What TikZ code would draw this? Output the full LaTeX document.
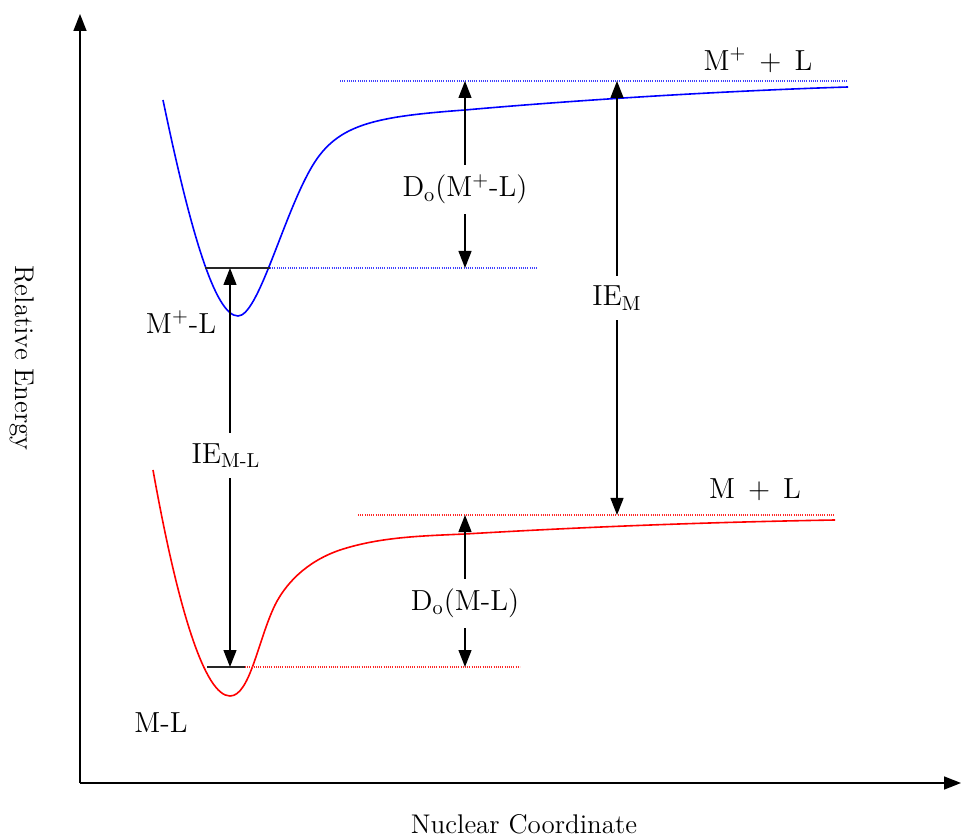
\documentclass[tikz,border=0pt]{standalone}
\usepackage{tikz}
\usetikzlibrary{arrows.meta}
\tikzset{
  axisarrow/.style={-{Triangle[length=8.5pt, width=6.5pt]}, line width=0.8pt},
  gaparrow/.style={{Triangle[length=8.5pt, width=6.5pt]}-{Triangle[length=8.5pt, width=6.5pt]}, line width=0.65pt},
  bluecurve/.style={blue, line width=0.8pt},
  redcurve/.style={red, line width=0.8pt},
  bluelevel/.style={blue!75, line width=0.55pt, dash pattern=on 0.5pt off 0.6pt},
  redlevel/.style={red!85, line width=0.55pt, dash pattern=on 0.5pt off 0.6pt},
  minlevel/.style={black!85, line width=0.75pt},
  gaplabel/.style={fill=white, inner sep=5pt, font=\fontsize{14.5}{17}\selectfont},
  statelabel/.style={font=\fontsize{14.5}{17}\selectfont},
  axislabel/.style={font=\fontsize{13.5}{16}\selectfont}
}

\begin{document}
\begin{tikzpicture}[x=0.5pt, y=-0.5pt]
  \useasboundingbox (0,0) rectangle (962,838);
  % axes
  \coordinate (origin) at (80,783);
  \coordinate (ytop) at (80,14);
  \coordinate (xend) at (961,783);
  \draw[axisarrow] (origin) -- (ytop);
  \draw[axisarrow] (origin) -- (xend);
  \node[axislabel, rotate=-90] (ylabel) at (22,358) {Relative Energy};
  \node[axislabel] (xlabel) at (524,824) {Nuclear Coordinate};

  % ion curve M+ -- L
  \draw[bluecurve] (163,100) .. controls (190,230) and (215,316) .. (238,316)
    .. controls (258,316) and (282,220) .. (310,170)
    .. controls (335,125) and (370,117) .. (465,110)
    .. controls (600,98) and (750,90) .. (848,87);
  % neutral curve M -- L
  \draw[redcurve] (153,470) .. controls (178,610) and (205,696) .. (230,696)
    .. controls (250,696) and (258,640) .. (275,605)
    .. controls (285,585) and (305,562) .. (340,550)
    .. controls (380,537) and (420,536) .. (465,534)
    .. controls (600,526) and (720,522) .. (835,520);

  % levels
  \coordinate (ionmin) at (205,268);
  \coordinate (ionmid) at (270,268);
  \coordinate (ionend) at (537,268);
  \coordinate (iontopa) at (340,81);
  \coordinate (iontopb) at (848,81);
  \coordinate (neumin) at (207,667);
  \coordinate (neumid) at (245,667);
  \coordinate (neuend) at (520,667);
  \coordinate (neutopa) at (358,515);
  \coordinate (neutopb) at (835,515);
  \draw[minlevel] (ionmin) -- (ionmid);
  \draw[bluelevel] (ionmid) -- (ionend);
  \draw[bluelevel] (iontopa) -- (iontopb);
  \draw[minlevel] (neumin) -- (neumid);
  \draw[redlevel] (neumid) -- (neuend);
  \draw[redlevel] (neutopa) -- (neutopb);

  % energy gaps
  \coordinate (dionup) at (465,81);
  \coordinate (diondn) at (465,268);
  \coordinate (iemup) at (617,81);
  \coordinate (iemdn) at (617,515);
  \coordinate (iemlup) at (230,268);
  \coordinate (iemldn) at (230,667);
  \coordinate (dneuup) at (465,515);
  \coordinate (dneudn) at (465,667);
  \draw[gaparrow] (dionup) -- node[gaplabel, pos=0.58] (dionlbl) {D\textsubscript{o}(M\textsuperscript{+}-L)} (diondn);
  \draw[gaparrow] (iemup) -- node[gaplabel, pos=0.5] (iemlbl) {IE\textsubscript{M}} (iemdn);
  \draw[gaparrow] (iemlup) -- node[gaplabel, pos=0.47, xshift=-2pt] (iemllbl) {IE\textsubscript{M-L}} (iemldn);
  \draw[gaparrow] (dneuup) -- node[gaplabel, pos=0.58] (dneulbl) {D\textsubscript{o}(M-L)} (dneudn);

  % states
  \node[statelabel] (ionfree) at (758,60) {M\textsuperscript{+}\hspace{0.45em}+\hspace{0.45em}L};
  \node[statelabel] (ionbound) at (181,322) {M\textsuperscript{+}-L};
  \node[statelabel] (neufree) at (755,490) {M\hspace{0.45em}+\hspace{0.45em}L};
  \node[statelabel] (neubound) at (161,723) {M-L};
\end{tikzpicture}
\end{document}
